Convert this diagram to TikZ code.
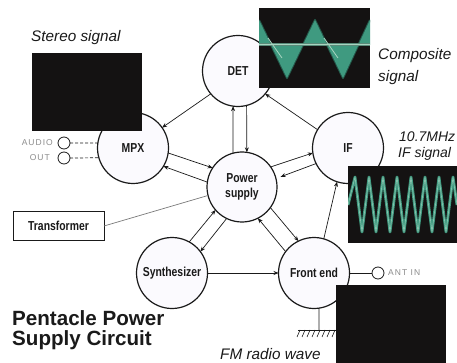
\documentclass[tikz,border=0pt]{standalone}
\usepackage{fontspec}
\setmainfont{Liberation Sans}
\newfontfamily\labf[FakeStretch=0.8]{Liberation Sans}
\newfontfamily\portf[LetterSpace=12]{Liberation Sans}
\usetikzlibrary{arrows.meta}
\definecolor{ink}{HTML}{1A1A1A}
\definecolor{scr}{HTML}{141212}
\definecolor{wavegreen}{HTML}{3F9A80}
\definecolor{wavedim}{HTML}{24584A}
\definecolor{wavelight}{HTML}{A8D4C0}
\definecolor{soft}{HTML}{7A7A7A}
\definecolor{portgray}{HTML}{8C8C8C}
\definecolor{blkfill}{HTML}{FBFAFE}
\tikzset{
  blk/.style={circle,draw=ink,line width=1.2pt,fill=blkfill,minimum size=71pt,inner sep=0pt,outer sep=0pt,align=center,text=ink,font=\labf\bfseries\fontsize{13}{15}\selectfont},
  lnk/.style={draw=ink,line width=0.7pt,-{Stealth[length=5pt,width=4pt]}},
  plainlnk/.style={draw=ink,line width=0.7pt},
  softlnk/.style={draw=soft,line width=0.7pt},
  port/.style={circle,draw=ink,line width=0.8pt,fill=white,minimum size=12pt,inner sep=0pt,outer sep=0pt},
  screen/.style={fill=scr,draw=none},
  captext/.style={font=\itshape\fontsize{15.3}{17}\selectfont,text=ink,anchor=west,inner sep=0pt},
  ifcaptext/.style={font=\itshape\fontsize{14}{16}\selectfont,text=ink,anchor=west,inner sep=0pt},
  portlabel/.style={font=\portf\fontsize{8.5}{10}\selectfont,text=portgray,inner sep=0pt},
  titletext/.style={font=\bfseries\fontsize{20.6}{22}\selectfont,text=ink,anchor=west,inner sep=0pt}
}
\begin{document}
\begin{tikzpicture}[x=1pt,y=-1pt]
\useasboundingbox (0,0) rectangle (457,363);
\clip (0,0) rectangle (457,363);
\fill[white] (0,0) rectangle (457,363);
% blocks
\node[blk] (det) at (238,71) {DET};
\node[blk] (if) at (348,148) {IF};
\node[blk] (mpx) at (133,148) {MPX};
\node[blk,minimum size=70pt] (pow) at (242,187) {Power\\supply};
\node[blk] (syn) at (172,273) {Synthesizer};
\node[blk] (fe) at (314,273) {Front end};
\node[draw=ink,line width=1pt,fill=white,minimum width=91pt,minimum height=28pt,inner sep=0pt,outer sep=0pt,text=ink,font=\labf\bfseries\fontsize{13}{15}\selectfont] (tr) at (58.5,226) {Transformer};
\node[port] (a1) at (64,143) {};
\node[port] (a2) at (64,158) {};
\node[port] (ant) at (378,273) {};
\coordinate (gnd) at (319,330);
% connectors
\draw[lnk] (pow.105) -- (det.262);
\draw[lnk] (det.284) -- (pow.82);
\draw[lnk] (if.149) -- (det.320);
\draw[lnk] (det.220) -- (mpx.35);
\draw[lnk] (pow.35) -- (if.188);
\draw[lnk,shorten >=5pt] (if.206) -- (pow.14);
\draw[lnk] (mpx.352) -- (pow.147);
\draw[lnk] (pow.172) -- (mpx.329);
\draw[softlnk] (tr.east) -- (pow.194);
\draw[lnk] (syn.61) -- (pow.221);
\draw[lnk] (pow.244) -- (syn.37);
\draw[lnk] (pow.324) -- (fe.116);
\draw[lnk] (fe.143) -- (pow.297);
\draw[lnk] (fe.74) -- (if.252);
\draw[lnk] (syn.0) -- (fe.180);
\draw[plainlnk] (fe.0) -- (ant.west);
\draw[plainlnk,densely dashed] (a1.east) -- (mpx.172);
\draw[plainlnk,densely dashed] (a2.east) -- (mpx.196);
\draw[plainlnk] (fe.278) -- (gnd);
% ground hatching
\draw[ink,line width=0.7pt] (298,330) -- (337,330);
\foreach \x in {300,305,...,335} \draw[ink,line width=0.6pt] (\x,330) -- (\x-3,337);
% screens
\fill[screen] (32,53) rectangle (142,131);
\fill[screen] (336,285) rectangle (446,363);
\begin{scope}
\clip (259,8) rectangle (370,88);
\fill[screen] (259,8) rectangle (370,88);
\draw[wavedim,line width=2pt,line join=round] (259,20) -- (287,78) -- (315,20) -- (343,78) -- (370,20);
\fill[wavegreen] (259,20) -- (287,78) -- (315,20) -- (343,78) -- (370,20) -- (370,45) -- (259,45) -- cycle;
\draw[wavedim!60!wavelight,line width=3pt] (259,45) -- (370,45);
\draw[wavelight,line width=1pt] (259,45) -- (370,45);
\draw[wavelight,line width=0.8pt] (268,38) -- (282,58) (324,38) -- (338,58);
\end{scope}
\begin{scope}
\clip (348,166) rectangle (457,243);
\fill[screen] (348,166) rectangle (457,243);
\draw[wavegreen,line width=2.8pt,line join=round] (348,205) -- (355,177) -- (362,232) -- (369,177) -- (376,232) -- (383,177) -- (390,232) -- (397,177) -- (404,232) -- (411,177) -- (418,232) -- (425,177) -- (432,232) -- (439,177) -- (446,232) -- (453,177) -- (457,205);
\draw[wavelight!70!wavegreen,line width=0.7pt,line join=round] (348,205) -- (355,177) -- (362,232) -- (369,177) -- (376,232) -- (383,177) -- (390,232) -- (397,177) -- (404,232) -- (411,177) -- (418,232) -- (425,177) -- (432,232) -- (439,177) -- (446,232) -- (453,177) -- (457,205);
\end{scope}
% texts
\node[captext] (t1) at (31,38) {Stereo signal};
\node[captext] (t2) at (378,56) {Composite};
\node[captext] (t3) at (378,78) {signal};
\node[ifcaptext] (t4) at (399,137) {10.7MHz};
\node[ifcaptext] (t5) at (398,154) {IF signal};
\node[captext] (t6) at (220,354) {FM radio wave};
\node[titletext] (t7) at (12,318) {Pentacle Power};
\node[titletext] (t8) at (12,340) {Supply Circuit};
\node[portlabel,anchor=east] (l1) at (53,143) {AUDIO};
\node[portlabel,anchor=east] (l2) at (50,158) {OUT};
\node[portlabel,anchor=west] (l3) at (388,273) {ANT IN};
\end{tikzpicture}
\end{document}
